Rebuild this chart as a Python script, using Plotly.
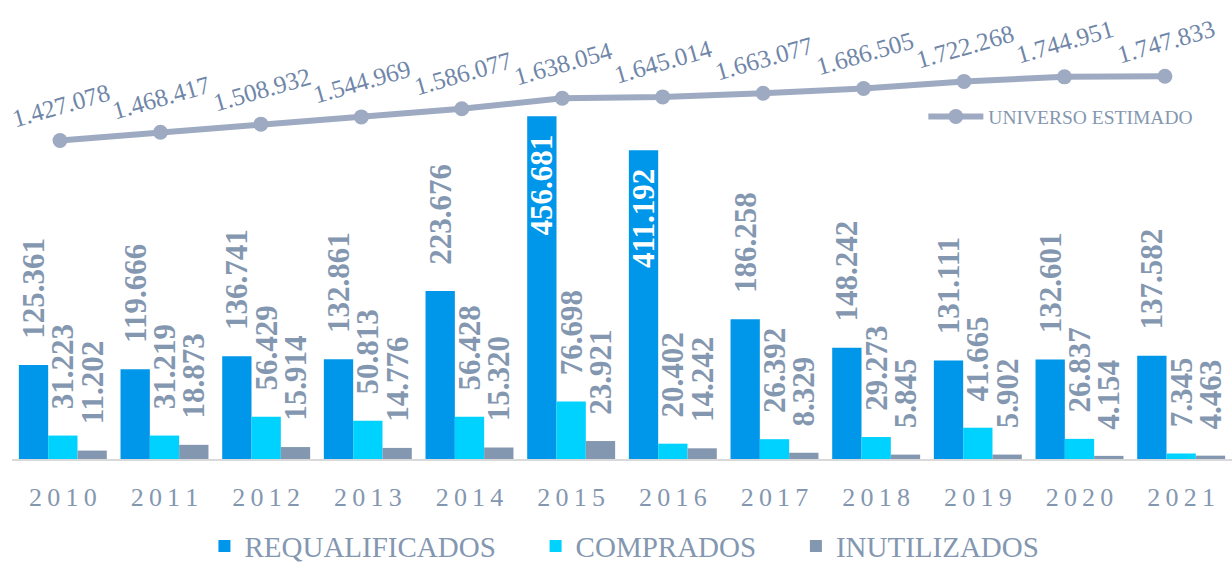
import plotly.graph_objects as go

years = ["2010", "2011", "2012", "2013", "2014", "2015", "2016", "2017", "2018", "2019", "2020", "2021"]
year_ticks = ["2\u20090\u20091\u20090", "2\u20090\u20091\u20091", "2\u20090\u20091\u20092", "2\u20090\u20091\u20093",
              "2\u20090\u20091\u20094", "2\u20090\u20091\u20095", "2\u20090\u20091\u20096", "2\u20090\u20091\u20097",
              "2\u20090\u20091\u20098", "2\u20090\u20091\u20099", "2\u20090\u20092\u20090", "2\u20090\u20092\u20091"]
requalificados = [125361, 119666, 136741, 132861, 223676, 456681, 411192, 186258, 148242, 131111, 132601, 137582]
comprados = [31223, 31219, 56429, 50813, 56428, 76698, 20402, 26392, 29273, 41665, 26837, 7345]
inutilizados = [11202, 18873, 15914, 14776, 15320, 23921, 14242, 8329, 5845, 5902, 4154, 4463]
universo = [1427078, 1468417, 1508932, 1544969, 1586077, 1638054, 1645014, 1663077, 1686505, 1722268, 1744951, 1747833]
inside_years = ["2015", "2016"]

C_BLUE = "#0096EA"
C_CYAN = "#00D2FF"
C_GREY = "#8497B0"
C_LINE = "#9DAAC1"
C_TEXT = "#8497B0"
C_LTEXT = "#7086A8"
SERIF = "Liberation Serif"
NB = "\u00a0"

fig = go.Figure()

def bar_trace(name, vals, color, allow_inside=False):
    pos = []
    tpl = []
    for y in years:
        if allow_inside and y in inside_years:
            pos.append("inside")
            tpl.append("%{y:,.0f}" + NB * 2)
        else:
            pos.append("outside")
            tpl.append(NB * 3 + "%{y:,.0f}")
    return go.Bar(
        x=years, y=vals, name=name, marker=dict(color=color, line=dict(width=0)),
        textposition=pos, texttemplate=tpl, textangle=-90,
        insidetextanchor="end", constraintext="none", cliponaxis=False,
        insidetextfont=dict(family=SERIF, size=31, color="white", weight="bold"),
        outsidetextfont=dict(family=SERIF, size=31, color=C_TEXT, weight="bold"),
        xaxis="x", yaxis="y", legend="legend", hoverinfo="skip",
    )

GAP = NB * 4 + "\u2009"
fig.add_trace(bar_trace("REQUALIFICADOS" + GAP, requalificados, C_BLUE, allow_inside=True))
fig.add_trace(bar_trace("COMPRADOS" + GAP, comprados, C_CYAN))
fig.add_trace(bar_trace("INUTILIZADOS", inutilizados, C_GREY))

fig.add_trace(go.Scatter(
    x=years, y=universo, name="UNIVERSO ESTIMADO", mode="lines+markers",
    line=dict(color=C_LINE, width=6), marker=dict(color=C_LINE, size=15),
    xaxis="x2", yaxis="y2", legend="legend2", cliponaxis=False, hoverinfo="skip",
))

# on a category axis, annotation x is the category's serial index
for i, v in enumerate(universo):
    fig.add_annotation(
        x=i, y=v, xref="x2", yref="y2", text=f"{v:,}".replace(",", "."),
        showarrow=False, textangle=-16, xshift=1, yshift=35,
        xanchor="center", yanchor="middle",
        font=dict(family=SERIF, size=25, color=C_LTEXT),
    )

hidden = dict(showline=False, showgrid=False, zeroline=False, showticklabels=False, ticks="")

fig.update_layout(
    width=1232, height=572,
    margin=dict(l=12, r=0, t=10, b=108, pad=0),
    paper_bgcolor="white", plot_bgcolor="white",
    separators=",.",
    barmode="group", bargap=0.135, bargroupgap=0,
    showlegend=True,
    xaxis=dict(type="category", tickmode="array", tickvals=years, ticktext=year_ticks,
               showline=True, linecolor="#D9D9D9", linewidth=2, ticks="",
               showgrid=False, zeroline=False, ticklabelstandoff=14,
               tickfont=dict(family=SERIF, size=26, color=C_TEXT)),
    yaxis=dict(range=[0, 598155], **hidden),
    xaxis2=dict(type="category", overlaying="x", side="top", range=[-0.478, 11.668], **hidden),
    yaxis2=dict(overlaying="y", side="right", range=[-162261, 2078608], **hidden),
    legend=dict(orientation="h", x=0.502, xanchor="center", y=-0.194, yanchor="middle",
                font=dict(family=SERIF, size=29, color=C_TEXT),
                bgcolor="rgba(0,0,0,0)"),
    legend2=dict(x=0.747, xanchor="left", y=0.762, yanchor="middle",
                 font=dict(family=SERIF, size=19.5, color=C_TEXT), itemwidth=55,
                 bgcolor="rgba(0,0,0,0)"),
)

fig.write_html("out.html", config={"displayModeBar": False},
               post_script="document.body.style.margin='0';document.body.style.padding='0';")
